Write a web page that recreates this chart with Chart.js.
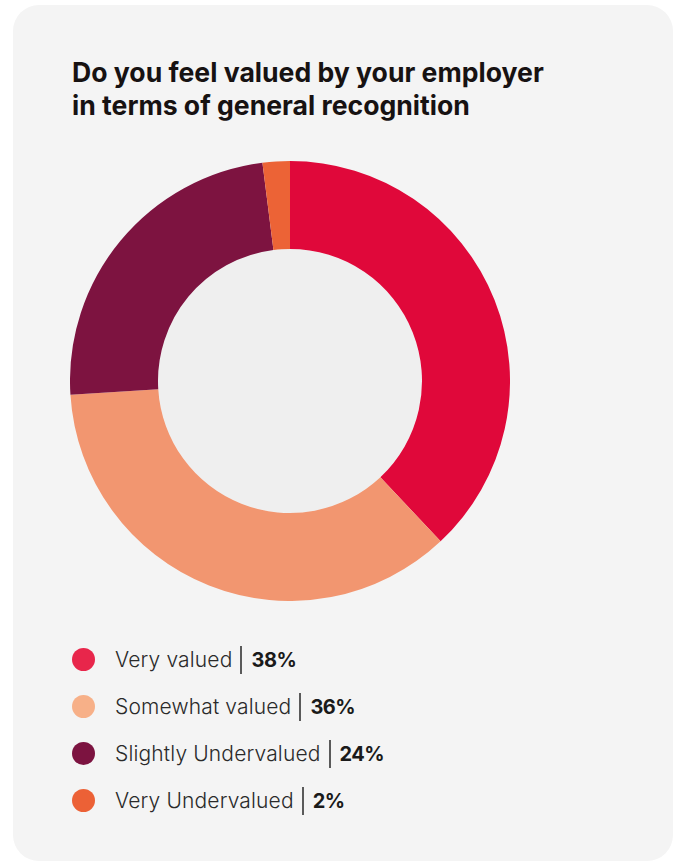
<!DOCTYPE html>
<html>
<head>
<meta charset="utf-8">
<script src="https://cdn.jsdelivr.net/npm/chart.js@4.4.1/dist/chart.umd.min.js"></script>
<style>
  html, body { margin: 0; padding: 0; background: #ffffff; }
  body { width: 678px; height: 863px; position: relative; overflow: hidden; font-family: Inter, "Noto Sans", sans-serif; }
  .card { position: absolute; left: 13px; top: 5px; width: 660px; height: 856px; background: #f4f4f4; border-radius: 26px; }
  h1 { position: absolute; left: 72px; top: 56px; margin: 0; font-size: 26.6px; line-height: 33px; font-weight: 700; color: #171212; letter-spacing: 0; }
  .chart-box { position: absolute; left: 70px; top: 161px; width: 440px; height: 440px; }
  .legend { position: absolute; left: 72px; top: 636px; margin: 0; padding: 0; list-style: none; }
  .legend li { height: 47px; display: flex; align-items: center; font-size: 21px; font-weight: 300; letter-spacing: 0.15px; color: #2a2a2a; white-space: nowrap; }
  .legend .dot { width: 23px; height: 23px; border-radius: 50%; margin-right: 20px; flex: none; }
  .legend .sep { display: inline-block; width: 2px; height: 28px; background: #5a5a5a; margin: 0 9px 0 8px; }
  .legend b { font-weight: 700; font-size: 20px; letter-spacing: -0.5px; color: #1a1a1a; }
</style>
</head>
<body>
<div class="card"></div>
<h1>Do you feel valued by your employer<br>in terms of general recognition</h1>
<div class="chart-box"><canvas id="donut" width="440" height="440"></canvas></div>
<ul class="legend" id="legend"></ul>
<script>
// Survey answers and their shares (%)
const categories = ["Very valued", "Somewhat valued", "Slightly Undervalued", "Very Undervalued"];
const shares = [38, 36, 24, 2];
const sliceColors = ["#e0083a", "#f29670", "#7d1340", "#ec6336"];
const dotColors = ["#e8264b", "#f7b088", "#7c1340", "#ec6136"];

// Fill the hole of the ring with a slightly darker grey
const holeFill = {
  id: "holeFill",
  beforeDatasetsDraw(chart) {
    const arc = chart.getDatasetMeta(0).data[0];
    if (!arc) return;
    const { x, y, innerRadius } = arc.getProps(["x", "y", "innerRadius"], true);
    const ctx = chart.ctx;
    ctx.save();
    ctx.beginPath();
    ctx.arc(x, y, innerRadius, 0, Math.PI * 2);
    ctx.fillStyle = "#efefef";
    ctx.fill();
    ctx.restore();
  }
};

new Chart(document.getElementById("donut"), {
  type: "doughnut",
  data: {
    labels: categories,
    datasets: [{
      data: shares,
      backgroundColor: sliceColors,
      borderWidth: 0,
      hoverBorderWidth: 0,
      hoverOffset: 0,
      offset: 0
    }]
  },
  options: {
    responsive: false,
    animation: false,
    cutout: "60%",
    layout: { padding: 0 },
    plugins: { legend: { display: false }, tooltip: { enabled: false } },
    events: []
  },
  plugins: [holeFill]
});

// Legend rows: dot, label, divider, bold share
const legend = document.getElementById("legend");
categories.forEach((name, i) => {
  const li = document.createElement("li");
  li.innerHTML = '<span class="dot" style="background:' + dotColors[i] + '"></span>' +
    '<span>' + name + '</span><span class="sep"></span><b>' + shares[i] + '%</b>';
  legend.appendChild(li);
});
</script>
</body>
</html>
